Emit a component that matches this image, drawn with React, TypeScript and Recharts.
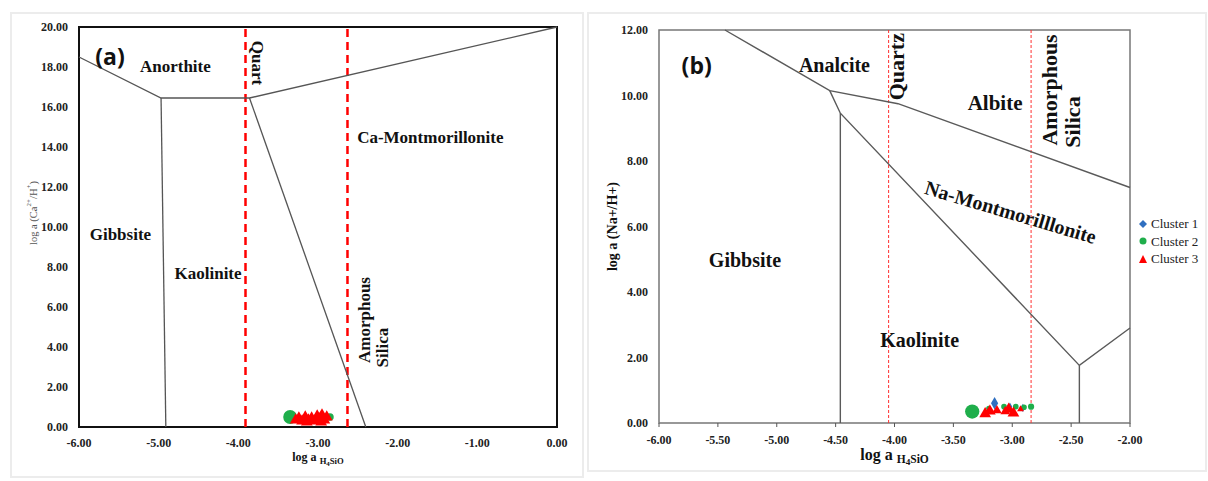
import React from 'react'
import { ScatterChart, Scatter, XAxis, YAxis, ZAxis, ReferenceLine, ReferenceArea, Legend, Label } from 'recharts'

type Pt = { x: number; y: number; z?: number }
type Tag = { x: number; y: number; text: string; size: number; angle?: number; sans?: boolean }

const SERIF = '"Liberation Serif", "DejaVu Serif", serif'
const SANS = '"Open Sans", "Liberation Sans", sans-serif'
const RED = '#ff0000'
const GREEN = '#1fae4b'
const BLUE = '#2f6fc0'

// ---- panel (a): Ca system
const xTicksA = [-6, -5, -4, -3, -2, -1, 0]
const yTicksA = [0, 2, 4, 6, 8, 10, 12, 14, 16, 18, 20]
const quartzA = -3.91
const amorphousA = -2.63

const boundaryA1: Pt[] = [
  { x: -6, y: 18.5 },
  { x: -4.97, y: 16.45 },
  { x: -3.86, y: 16.45 },
  { x: 0, y: 20 },
]
const boundaryA2: Pt[] = [
  { x: -4.97, y: 16.45 },
  { x: -4.91, y: 0 },
]
const boundaryA3: Pt[] = [
  { x: -3.86, y: 16.45 },
  { x: -2.4, y: 0 },
]

const cluster2A: Pt[] = [
  { x: -3.35, y: 0.5, z: 150 },
  { x: -2.85, y: 0.5, z: 45 },
]
const cluster3A: Pt[] = [
  { x: -3.28, y: 0.35, z: 60 },
  { x: -3.24, y: 0.45, z: 60 },
  { x: -3.2, y: 0.3, z: 60 },
  { x: -3.16, y: 0.5, z: 60 },
  { x: -3.12, y: 0.35, z: 60 },
  { x: -3.08, y: 0.45, z: 60 },
  { x: -3.04, y: 0.3, z: 60 },
  { x: -3.01, y: 0.55, z: 60 },
  { x: -2.98, y: 0.4, z: 60 },
  { x: -2.95, y: 0.6, z: 60 },
  { x: -2.92, y: 0.35, z: 60 },
  { x: -2.89, y: 0.5, z: 60 },
  { x: -3.14, y: 0.25, z: 60 },
  { x: -2.96, y: 0.25, z: 60 },
]

const tagsA: Tag[] = [
  { x: -5.61, y: 18.55, text: '(a)', size: 23, sans: true },
  { x: -4.79, y: 18.05, text: 'Anorthite', size: 17 },
  { x: -3.76, y: 18.2, text: 'Quart', size: 17, angle: 90 },
  { x: -1.59, y: 14.5, text: 'Ca-Montmorillonite', size: 17 },
  { x: -5.48, y: 9.65, text: 'Gibbsite', size: 17 },
  { x: -4.38, y: 7.7, text: 'Kaolinite', size: 17 },
  { x: -2.42, y: 5.35, text: 'Amorphous', size: 17, angle: -90 },
  { x: -2.19, y: 3.97, text: 'Silica', size: 17, angle: -90 },
]

// ---- panel (b): Na system
const xTicksB = [-6, -5.5, -5, -4.5, -4, -3.5, -3, -2.5, -2]
const yTicksB = [0, 2, 4, 6, 8, 10, 12]
const minorTicksB = [
  0, 0.4, 0.8, 1.2, 1.6, 2, 2.4, 2.8, 3.2, 3.6, 4, 4.4, 4.8, 5.2, 5.6, 6, 6.4, 6.8, 7.2, 7.6, 8, 8.4, 8.8,
  9.2, 9.6, 10, 10.4, 10.8, 11.2, 11.6, 12,
]
const quartzB = -4.05
const amorphousB = -2.84

const boundaryB1: Pt[] = [
  { x: -5.44, y: 12 },
  { x: -4.55, y: 10.15 },
  { x: -3.97, y: 9.75 },
  { x: -2, y: 7.19 },
]
const boundaryB2: Pt[] = [
  { x: -4.55, y: 10.15 },
  { x: -4.46, y: 9.46 },
  { x: -2.43, y: 1.76 },
  { x: -2, y: 2.9 },
]
const boundaryB3: Pt[] = [
  { x: -4.46, y: 9.46 },
  { x: -4.46, y: 0 },
]
const boundaryB4: Pt[] = [
  { x: -2.43, y: 1.76 },
  { x: -2.43, y: 0 },
]

const cluster1B: Pt[] = [
  { x: -3.15, y: 0.6, z: 45 },
  { x: -3.02, y: 0.5, z: 20 },
  { x: -2.91, y: 0.46, z: 20 },
]
const cluster2B: Pt[] = [
  { x: -3.34, y: 0.35, z: 160 },
  { x: -3.2, y: 0.45, z: 20 },
  { x: -3.07, y: 0.5, z: 25 },
  { x: -2.97, y: 0.5, z: 25 },
  { x: -2.9, y: 0.48, z: 25 },
  { x: -2.84, y: 0.5, z: 30 },
]
const cluster3B: Pt[] = [
  { x: -3.23, y: 0.28, z: 60 },
  { x: -3.19, y: 0.36, z: 60 },
  { x: -3.13, y: 0.38, z: 40 },
  { x: -3.06, y: 0.35, z: 40 },
  { x: -3.03, y: 0.42, z: 60 },
  { x: -2.99, y: 0.3, z: 60 },
  { x: -2.93, y: 0.42, z: 20 },
]

const tagsB: Tag[] = [
  { x: -5.68, y: 10.93, text: '(b)', size: 23, sans: true },
  { x: -4.51, y: 10.93, text: 'Analcite', size: 20 },
  { x: -3.985, y: 10.88, text: 'Quartz', size: 22, angle: -90 },
  { x: -3.146, y: 9.76, text: 'Albite', size: 21 },
  { x: -2.685, y: 10.17, text: 'Amorphous', size: 22, angle: -90 },
  { x: -2.49, y: 9.19, text: 'Silica', size: 22, angle: -90 },
  { x: -3.014, y: 6.44, text: 'Na-Montmorilllonite', size: 20, angle: 16.5 },
  { x: -5.27, y: 4.98, text: 'Gibbsite', size: 20 },
  { x: -3.787, y: 2.52, text: 'Kaolinite', size: 20 },
]

const legendB = [
  { name: 'Cluster 1', color: BLUE, kind: 'diamond' },
  { name: 'Cluster 2', color: GREEN, kind: 'circle' },
  { name: 'Cluster 3', color: RED, kind: 'triangle' },
]

const fmt = (v: number) => v.toFixed(2)
const noShape = () => <g />

const renderTag = (props: any) => {
  const t = (props.payload ?? props) as Tag
  const { cx, cy } = props
  return (
    <text
      x={cx}
      y={cy}
      textAnchor="middle"
      dominantBaseline="central"
      fontFamily={t.sans ? SANS : SERIF}
      fontWeight="bold"
      fontSize={t.size}
      fill="#111"
      transform={t.angle ? `rotate(${t.angle} ${cx} ${cy})` : undefined}
    >
      {t.text}
    </text>
  )
}

const xTitle = (size: number, offset: number) => (props: any) => {
  const { x, y, width } = props.viewBox
  const s = size * 0.72
  return (
    <text x={x + width / 2} y={y + offset} textAnchor="middle" fontFamily={SERIF} fontWeight="bold" fontSize={size} fill="#111">
      <tspan>log a </tspan>
      <tspan fontSize={s} dy={3}>H</tspan>
      <tspan fontSize={s * 0.8} dy={2}>4</tspan>
      <tspan fontSize={s} dy={-2}>SiO</tspan>
    </text>
  )
}

const yTitleA = (props: any) => {
  const { x, y, height } = props.viewBox
  const cx = x + 33
  const cy = y + height / 2 - 14
  return (
    <text x={cx} y={cy} textAnchor="middle" dominantBaseline="central" fontFamily={SERIF} fontSize={10.5} fill="#555" transform={`rotate(-90 ${cx} ${cy})`}>
      <tspan>log a (Ca</tspan>
      <tspan fontSize={7} dy={-4}>2+</tspan>
      <tspan dy={4}>/H</tspan>
      <tspan fontSize={7} dy={-4}>+</tspan>
      <tspan dy={4}>)</tspan>
    </text>
  )
}

const yTitleB = (props: any) => {
  const { x, y, height } = props.viewBox
  const cx = x + 12
  const cy = y + height / 2
  return (
    <text x={cx} y={cy} textAnchor="middle" dominantBaseline="central" fontFamily={SERIF} fontWeight="bold" fontSize={14} fill="#111" transform={`rotate(-90 ${cx} ${cy})`}>
      log a (Na+/H+)
    </text>
  )
}

const LegendB = () => (
  <div style={{ fontFamily: SERIF, fontSize: 13, color: '#222', lineHeight: '17.5px' }}>
    {legendB.map((item) => (
      <div key={item.name} style={{ display: 'flex', alignItems: 'center', whiteSpace: 'nowrap' }}>
        <svg width={8} height={8} style={{ marginRight: 4 }}>
          {item.kind === 'diamond' && <polygon points="4,0 8,4 4,8 0,4" fill={item.color} />}
          {item.kind === 'circle' && <circle cx={4} cy={4} r={3.5} fill={item.color} />}
          {item.kind === 'triangle' && <polygon points="4,0 8,8 0,8" fill={item.color} />}
        </svg>
        {item.name}
      </div>
    ))}
  </div>
)

const tickA = { fontSize: 12, fill: '#222', fontFamily: SERIF, fontWeight: 'bold' }
const tickB = { fontSize: 12, fill: '#222', fontFamily: SERIF, fontWeight: 'bold' }
const lineA = { stroke: '#555', strokeWidth: 1.3 }
const lineB = { stroke: '#5a5a5a', strokeWidth: 1.4 }

function PanelA() {
  return (
    <ScatterChart width={600} height={481} margin={{ top: 27, right: 43, bottom: 0, left: 0 }}>
      <XAxis
        type="number"
        dataKey="x"
        domain={[-6, 0]}
        ticks={xTicksA}
        interval={0}
        tickFormatter={fmt}
        tick={tickA}
        axisLine={false}
        tickLine={false}
        tickSize={0}
        tickMargin={11}
        height={54}
      >
        <Label content={xTitle(12, 34)} />
      </XAxis>
      <YAxis
        type="number"
        dataKey="y"
        domain={[0, 20]}
        ticks={yTicksA}
        interval={0}
        tickFormatter={fmt}
        tick={tickA}
        axisLine={false}
        tickLine={false}
        tickSize={0}
        tickMargin={11}
        width={79}
      >
        <Label content={yTitleA} />
      </YAxis>
      <YAxis
        yAxisId="r"
        orientation="right"
        type="number"
        domain={[0, 20]}
        ticks={yTicksA}
        interval={0}
        mirror
        width={0}
        axisLine={false}
        tickSize={4}
        tickLine={{ stroke: '#333' }}
        tickFormatter={() => ''}
      />
      <ZAxis dataKey="z" type="number" domain={[0, 200]} range={[0, 200]} />
      <ReferenceArea x1={-6} x2={0} y1={0} y2={20} fill="none" stroke="#111" strokeWidth={2} />
      <ReferenceLine x={quartzA} stroke={RED} strokeWidth={2.5} strokeDasharray="8 5" />
      <ReferenceLine x={amorphousA} stroke={RED} strokeWidth={2.5} strokeDasharray="8 5" />
      <Scatter data={boundaryA1} line={lineA} shape={noShape} legendType="none" isAnimationActive={false} />
      <Scatter data={boundaryA2} line={lineA} shape={noShape} legendType="none" isAnimationActive={false} />
      <Scatter data={boundaryA3} line={lineA} shape={noShape} legendType="none" isAnimationActive={false} />
      <Scatter name="Cluster 2" data={cluster2A} fill={GREEN} shape="circle" isAnimationActive={false} />
      <Scatter name="Cluster 3" data={cluster3A} fill={RED} shape="triangle" isAnimationActive={false} />
      <Scatter data={tagsA} shape={renderTag} legendType="none" isAnimationActive={false} />
    </ScatterChart>
  )
}

function PanelB() {
  return (
    <ScatterChart width={608} height={481} margin={{ top: 30, right: 78, bottom: 0, left: 0 }}>
      <XAxis
        type="number"
        dataKey="x"
        domain={[-6, -2]}
        ticks={xTicksB}
        interval={0}
        tickFormatter={fmt}
        tick={tickB}
        axisLine={false}
        tickLine={{ stroke: '#555' }}
        tickSize={4}
        tickMargin={8}
        height={58}
      >
        <Label content={xTitle(16, 37)} />
      </XAxis>
      <YAxis
        type="number"
        dataKey="y"
        domain={[0, 12]}
        ticks={yTicksB}
        interval={0}
        tickFormatter={fmt}
        tick={tickB}
        axisLine={false}
        tickLine={false}
        tickSize={0}
        tickMargin={11}
        width={59}
      >
        <Label content={yTitleB} />
      </YAxis>
      <YAxis
        yAxisId="r"
        orientation="right"
        type="number"
        domain={[0, 12]}
        ticks={minorTicksB}
        interval={0}
        mirror
        width={0}
        axisLine={false}
        tickSize={3}
        tickLine={{ stroke: '#444' }}
        tickFormatter={() => ''}
      />
      <ZAxis dataKey="z" type="number" domain={[0, 200]} range={[0, 200]} />
      <ReferenceArea x1={-6} x2={-2} y1={0} y2={12} fill="none" stroke="#777" strokeWidth={1.5} />
      <ReferenceLine x={quartzB} stroke="#ff3030" strokeWidth={1} strokeDasharray="3 2" />
      <ReferenceLine x={amorphousB} stroke="#ff3030" strokeWidth={1} strokeDasharray="3 2" />
      <Scatter data={boundaryB1} line={lineB} shape={noShape} legendType="none" isAnimationActive={false} />
      <Scatter data={boundaryB2} line={lineB} shape={noShape} legendType="none" isAnimationActive={false} />
      <Scatter data={boundaryB3} line={lineB} shape={noShape} legendType="none" isAnimationActive={false} />
      <Scatter data={boundaryB4} line={lineB} shape={noShape} legendType="none" isAnimationActive={false} />
      <Scatter name="Cluster 1" data={cluster1B} fill={BLUE} shape="diamond" isAnimationActive={false} />
      <Scatter name="Cluster 2" data={cluster2B} fill={GREEN} shape="circle" isAnimationActive={false} />
      <Scatter name="Cluster 3" data={cluster3B} fill={RED} shape="triangle" isAnimationActive={false} />
      <Scatter data={tagsB} shape={renderTag} legendType="none" isAnimationActive={false} />
      <Legend
        layout="horizontal"
        verticalAlign="middle"
        align="center"
        content={LegendB}
        wrapperStyle={{ left: 539, top: 215, width: 69 }}
      />
    </ScatterChart>
  )
}

export default function App() {
  return (
    <div style={{ position: 'relative', width: 1208, height: 481, background: '#fff', overflow: 'hidden' }}>
      <style>{'body{margin:0;background:#fff}'}</style>
      <div style={{ position: 'absolute', left: 10, top: 12, width: 570, height: 462, border: '2px solid #ececec' }} />
      <div style={{ position: 'absolute', left: 587, top: 12, width: 616, height: 456, border: '2px solid #ececec' }} />
      <div style={{ position: 'absolute', left: 0, top: 0 }}>
        <PanelA />
      </div>
      <div style={{ position: 'absolute', left: 600, top: 0 }}>
        <PanelB />
      </div>
    </div>
  )
}
